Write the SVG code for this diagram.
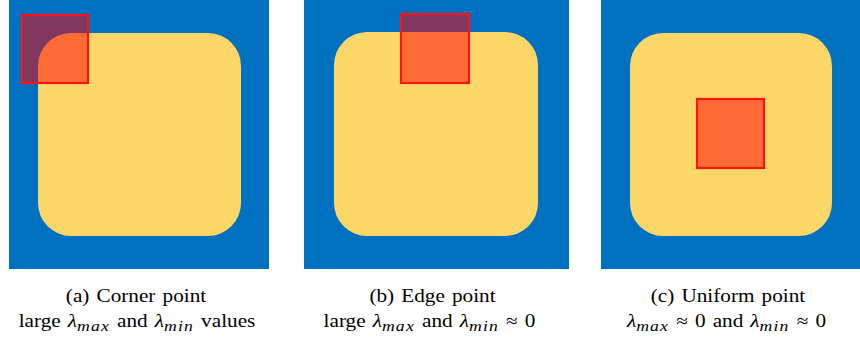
<svg xmlns="http://www.w3.org/2000/svg" width="860" height="347" viewBox="0 0 860 347">
<style>
.bg{fill:#0070c0}
.shape{fill:#fcd667}
.win{fill:#ff0000;fill-opacity:0.5;stroke:#ff1414;stroke-width:2.2}
.cap{font-family:"Liberation Serif","Times New Roman",serif;font-size:18px;fill:#000;text-anchor:middle;word-spacing:1.5px}
.m{font-style:italic}
.s{font-style:italic;font-size:15px;letter-spacing:1px}
</style>
<rect width="860" height="347" fill="#fff"/>
<g id="panel-a">
<rect class="bg" x="9" y="0" width="260" height="269"/>
<rect class="shape" x="38" y="33" width="203" height="203" rx="33"/>
<rect class="win" x="22" y="15" width="66" height="68"/>
<text class="cap" transform="translate(136,302) scale(1.18,1)">(a) Corner point</text>
<text class="cap" transform="translate(137,327) scale(1.18,1)">large <tspan class="m">λ</tspan><tspan class="s" dy="3.5">max</tspan><tspan dy="-3.5"> and </tspan><tspan class="m">λ</tspan><tspan class="s" dy="3.5">min</tspan><tspan dy="-3.5"> values</tspan></text>
</g>
<g id="panel-b">
<rect class="bg" x="304" y="0" width="265" height="269"/>
<rect class="shape" x="334" y="32" width="204" height="204" rx="33"/>
<rect class="win" x="401" y="14" width="68" height="69"/>
<text class="cap" transform="translate(432.5,302) scale(1.18,1)">(b) Edge point</text>
<text class="cap" transform="translate(429.5,327) scale(1.18,1)">large <tspan class="m">λ</tspan><tspan class="s" dy="3.5">max</tspan><tspan dy="-3.5"> and </tspan><tspan class="m">λ</tspan><tspan class="s" dy="3.5">min</tspan><tspan dy="-3.5"> ≈ 0</tspan></text>
</g>
<g id="panel-c">
<rect class="bg" x="601" y="0" width="259" height="269"/>
<rect class="shape" x="630" y="33" width="202" height="203" rx="33"/>
<rect class="win" x="697" y="99" width="67" height="69"/>
<text class="cap" transform="translate(728,302) scale(1.18,1)">(c) Uniform point</text>
<text class="cap" transform="translate(726.5,327) scale(1.18,1)"><tspan class="m">λ</tspan><tspan class="s" dy="3.5">max</tspan><tspan dy="-3.5"> ≈ 0 and </tspan><tspan class="m">λ</tspan><tspan class="s" dy="3.5">min</tspan><tspan dy="-3.5"> ≈ 0</tspan></text>
</g>
<g id="connectors"/>
</svg>
